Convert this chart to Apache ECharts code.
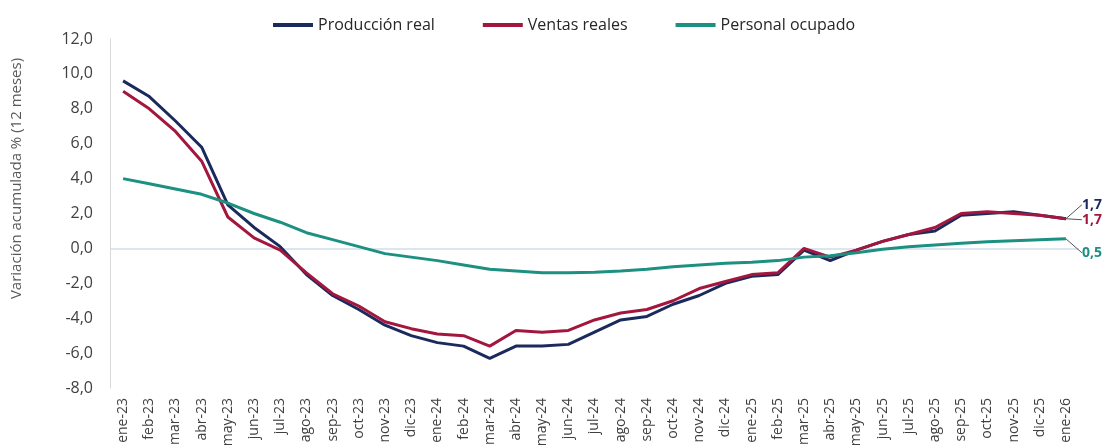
<!DOCTYPE html>
<html>
  <head>
    <title>Variación acumulada</title>
    <meta charset="utf-8">
    <script type="text/javascript" src="https://cdn.jsdelivr.net/npm/echarts@6/dist/echarts.min.js"></script>
    <style>
      html, body { margin: 0; padding: 0; background: #fff; }
    </style>
  </head>
  <body>
    <div id="main" style="width: 1108px;height:445px;"></div>

  <script type="text/javascript">
    // meses (ene-23 ... ene-26)
    var meses = ['ene-23','feb-23','mar-23','abr-23','may-23','jun-23','jul-23','ago-23','sep-23','oct-23','nov-23','dic-23',
                 'ene-24','feb-24','mar-24','abr-24','may-24','jun-24','jul-24','ago-24','sep-24','oct-24','nov-24','dic-24',
                 'ene-25','feb-25','mar-25','abr-25','may-25','jun-25','jul-25','ago-25','sep-25','oct-25','nov-25','dic-25',
                 'ene-26'];

    var produccion = [9.6, 8.7, 7.3, 5.8, 2.5, 1.2, 0.1, -1.5, -2.7, -3.5, -4.4, -5.0,
                      -5.4, -5.6, -6.3, -5.6, -5.6, -5.5, -4.8, -4.1, -3.9, -3.2, -2.7, -2.0,
                      -1.6, -1.5, -0.1, -0.7, -0.1, 0.4, 0.8, 1.0, 1.9, 2.0, 2.1, 1.9,
                      1.7];

    var ventas = [9.0, 8.0, 6.7, 5.0, 1.8, 0.6, -0.1, -1.4, -2.6, -3.3, -4.2, -4.6,
                  -4.9, -5.0, -5.6, -4.7, -4.8, -4.7, -4.1, -3.7, -3.5, -3.0, -2.3, -1.9,
                  -1.5, -1.4, 0.0, -0.5, -0.1, 0.4, 0.8, 1.2, 2.0, 2.1, 2.0, 1.9,
                  1.7];

    var personal = [4.0, 3.7, 3.4, 3.1, 2.6, 2.0, 1.5, 0.9, 0.5, 0.1, -0.3, -0.5,
                    -0.7, -0.95, -1.2, -1.3, -1.4, -1.4, -1.37, -1.3, -1.2, -1.05, -0.95, -0.85,
                    -0.8, -0.7, -0.5, -0.42, -0.25, -0.05, 0.1, 0.2, 0.3, 0.38, 0.44, 0.5,
                    0.55];

    var nombres = ['Producción real', 'Ventas reales', 'Personal ocupado'];
    var colores = ['#1b2a5c', '#a3173f', '#1c9081'];
    var etiquetasFinal = ['1,7', '1,7', '0,5'];
    var desplazamiento = [-14, 1, 14]; // dy de las etiquetas finales

    var fuente = 'Open Sans';

    // serie con etiqueta solo en el ultimo punto
    function serie(i, valores) {
      var datos = valores.map(function (v, k) {
        if (k === valores.length - 1) {
          return { value: v, label: { show: true, formatter: etiquetasFinal[i] } };
        }
        return v;
      });
      return {
        name: nombres[i],
        type: 'line',
        data: datos,
        symbol: 'circle',
        symbolSize: 0,
        showSymbol: true,
        smooth: false,
        z: i + 2,
        lineStyle: { color: colores[i], width: 3 },
        itemStyle: { color: colores[i] },
        label: {
          show: false,
          position: 'right',
          distance: 4,
          color: colores[i],
          fontFamily: fuente,
          fontWeight: 'bold',
          fontSize: 14
        },
        labelLayout: { dx: 12, dy: desplazamiento[i] },
        labelLine: { show: true, lineStyle: { color: '#555', width: 1 } },
        markLine: i === 0 ? {
          silent: true,
          symbol: 'none',
          label: { show: false },
          lineStyle: { color: '#dce6f0', width: 2, type: 'solid' },
          data: [{ yAxis: 0 }],
          z: 0
        } : undefined
      };
    }

    var myChart = echarts.init(document.getElementById('main'));

    var option = {
      backgroundColor: '#ffffff',
      animation: false,
      legend: {
        top: 12,
        left: 268,
        itemWidth: 40,
        itemHeight: 4,
        itemGap: 48,
        icon: 'rect',
        textStyle: { fontFamily: fuente, fontSize: 16, color: '#262626' },
        data: nombres
      },
      grid: { left: 110, right: 29, top: 39, bottom: 57, containLabel: false, outerBoundsMode: 'none' },
      xAxis: {
        type: 'category',
        data: meses,
        boundaryGap: true,
        axisLine: { show: false },
        axisTick: { show: false },
        axisLabel: {
          interval: 0,
          rotate: 90,
          margin: 10,
          fontFamily: fuente,
          fontSize: 14,
          color: '#404040'
        }
      },
      yAxis: {
        type: 'value',
        min: -8,
        max: 12,
        interval: 2,
        name: 'Variación acumulada % (12 meses)',
        nameLocation: 'middle',
        nameGap: 86,
        nameTextStyle: { fontFamily: fuente, fontSize: 15, color: '#595959', padding: [0, 0, 0, 70] },
        axisLine: { show: true, lineStyle: { color: '#d9d9d9', width: 1 } },
        axisTick: { show: false },
        splitLine: { show: false },
        axisLabel: {
          margin: 17,
          fontFamily: fuente,
          fontSize: 16,
          color: '#404040',
          formatter: function (v) { return v.toFixed(1).replace('.', ','); }
        }
      },
      series: [
        serie(0, produccion),
        serie(1, ventas),
        serie(2, personal)
      ]
    };

    myChart.setOption(option, true);
  </script>
  </body>
</html>
